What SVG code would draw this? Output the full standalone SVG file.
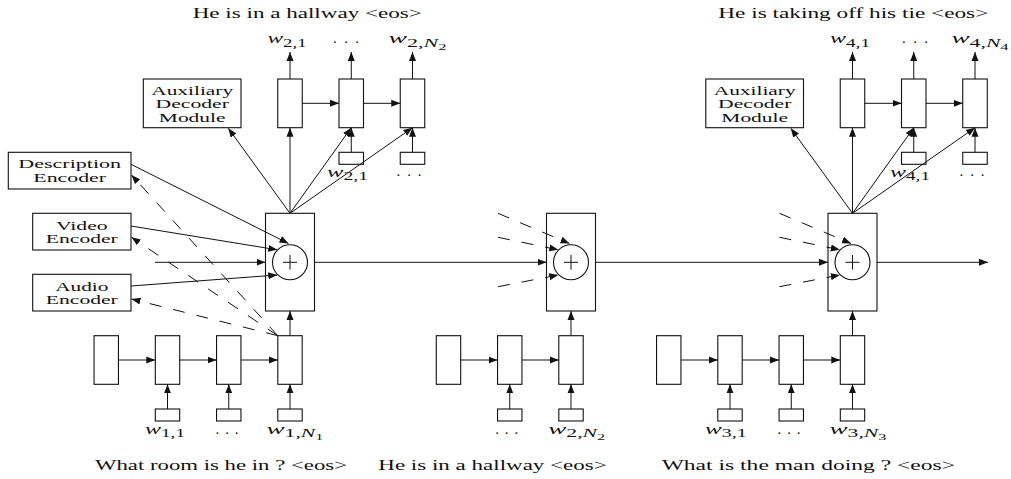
<svg xmlns="http://www.w3.org/2000/svg" width="1011" height="479" viewBox="0 0 1011 479">
<defs>
<style>
.b{fill:#fff;stroke:#111;stroke-width:1.1}
.l{fill:none;stroke:#111;stroke-width:1}
.d{fill:none;stroke:#111;stroke-width:1;stroke-dasharray:12 12}
.a{marker-end:url(#ah)}
text{font-family:"Liberation Serif","Times New Roman",serif;font-size:15px;fill:#111}
.t{text-anchor:middle}
.bx{font-size:13px}
.i{font-style:italic}
</style>
<marker id="ah" markerWidth="10" markerHeight="8" refX="9" refY="4" orient="auto" markerUnits="userSpaceOnUse">
<path d="M0,0.5 L9,4 L0,7.5 Z" fill="#111"/>
</marker>
</defs>
<rect width="1011" height="479" fill="#fff"/>

<!-- Encoders -->
<g id="desc-encoder">
<rect class="b" x="8.3" y="152.3" width="122.7" height="36.7"/>
<text class="t bx" x="69.7" y="168" textLength="102.7" lengthAdjust="spacingAndGlyphs">Description</text>
<text class="t bx" x="69.7" y="181.7" textLength="72.7" lengthAdjust="spacingAndGlyphs">Encoder</text>
</g>
<g id="video-encoder">
<rect class="b" x="32.7" y="213.3" width="98.3" height="36.7"/>
<text class="t bx" x="81.8" y="230.3" textLength="51.7" lengthAdjust="spacingAndGlyphs">Video</text>
<text class="t bx" x="81.8" y="243.3" textLength="72" lengthAdjust="spacingAndGlyphs">Encoder</text>
</g>
<g id="audio-encoder">
<rect class="b" x="32.7" y="274.3" width="98.3" height="36.7"/>
<text class="t bx" x="81.8" y="291.3" textLength="53.3" lengthAdjust="spacingAndGlyphs">Audio</text>
<text class="t bx" x="81.8" y="304.3" textLength="72" lengthAdjust="spacingAndGlyphs">Encoder</text>
</g>

<!-- Aux decoders -->
<g id="aux-decoder-1">
<rect class="b" x="143.3" y="79" width="97.7" height="48.7"/>
<text class="t bx" x="192.2" y="94.5" textLength="82" lengthAdjust="spacingAndGlyphs">Auxiliary</text>
<text class="t bx" x="192.2" y="108" textLength="73.3" lengthAdjust="spacingAndGlyphs">Decoder</text>
<text class="t bx" x="192.2" y="121.5" textLength="66.7" lengthAdjust="spacingAndGlyphs">Module</text>
</g>
<g id="aux-decoder-2">
<rect class="b" x="705.8" y="79" width="97.7" height="48.7"/>
<text class="t bx" x="754.7" y="94.5" textLength="82" lengthAdjust="spacingAndGlyphs">Auxiliary</text>
<text class="t bx" x="754.7" y="108" textLength="73.3" lengthAdjust="spacingAndGlyphs">Decoder</text>
<text class="t bx" x="754.7" y="121.5" textLength="66.7" lengthAdjust="spacingAndGlyphs">Module</text>
</g>

<!-- Main blocks -->
<g id="block-1">
<rect class="b" x="265.5" y="213.3" width="49" height="97.7"/>
<circle class="b" cx="290" cy="262.3" r="17.5"/>
<path class="l" d="M283,262.3 H297 M290,255 V269.6"/>
</g>
<g id="block-2">
<rect class="b" x="546.5" y="213.3" width="49" height="97.7"/>
<circle class="b" cx="571" cy="262.3" r="17.5"/>
<path class="l" d="M564,262.3 H578 M571,255 V269.6"/>
</g>
<g id="block-3">
<rect class="b" x="828" y="213.3" width="49" height="97.7"/>
<circle class="b" cx="852.5" cy="262.3" r="17.5"/>
<path class="l" d="M845.5,262.3 H859.5 M852.5,255 V269.6"/>
</g>

<!-- Decoder 1 -->
<g id="decoder-1">
<rect class="b" x="277.75" y="79" width="24.5" height="48.7"/>
<rect class="b" x="339" y="79" width="24.5" height="48.7"/>
<rect class="b" x="400.25" y="79" width="24.5" height="48.7"/>
<rect class="b" x="339" y="152.3" width="24.5" height="12"/>
<rect class="b" x="400.25" y="152.3" width="24.5" height="12"/>
</g>
<!-- Decoder 2 -->
<g id="decoder-2">
<rect class="b" x="840.25" y="79" width="24.5" height="48.7"/>
<rect class="b" x="901.5" y="79" width="24.5" height="48.7"/>
<rect class="b" x="962.75" y="79" width="24.5" height="48.7"/>
<rect class="b" x="901.5" y="152.3" width="24.5" height="12"/>
<rect class="b" x="962.75" y="152.3" width="24.5" height="12"/>
</g>

<!-- Chains -->
<g id="question-encoder-1">
<rect class="b" x="94.05" y="335.7" width="24.4" height="48.6"/>
<rect class="b" x="155.3" y="335.7" width="24.4" height="48.6"/>
<rect class="b" x="216.55" y="335.7" width="24.4" height="48.6"/>
<rect class="b" x="277.8" y="335.7" width="24.4" height="48.6"/>
<rect class="b" x="155.3" y="409" width="24.4" height="12"/>
<rect class="b" x="216.55" y="409" width="24.4" height="12"/>
<rect class="b" x="277.8" y="409" width="24.4" height="12"/>
</g>
<g id="answer-encoder-2">
<rect class="b" x="436.3" y="335.7" width="24.4" height="48.6"/>
<rect class="b" x="497.55" y="335.7" width="24.4" height="48.6"/>
<rect class="b" x="558.8" y="335.7" width="24.4" height="48.6"/>
<rect class="b" x="497.55" y="409" width="24.4" height="12"/>
<rect class="b" x="558.8" y="409" width="24.4" height="12"/>
</g>
<g id="question-encoder-3">
<rect class="b" x="656.55" y="335.7" width="24.4" height="48.6"/>
<rect class="b" x="717.8" y="335.7" width="24.4" height="48.6"/>
<rect class="b" x="779.05" y="335.7" width="24.4" height="48.6"/>
<rect class="b" x="840.3" y="335.7" width="24.4" height="48.6"/>
<rect class="b" x="717.8" y="409" width="24.4" height="12"/>
<rect class="b" x="779.05" y="409" width="24.4" height="12"/>
<rect class="b" x="840.3" y="409" width="24.4" height="12"/>
</g>

<!-- Connectors -->
<g id="connectors">
<line class="l a" x1="131" y1="164.3" x2="288.5" y2="243.5"/>
<line class="l a" x1="131" y1="226" x2="277.3" y2="249.8"/>
<line class="l a" x1="155" y1="262.3" x2="265.5" y2="262.3"/>
<line class="l a" x1="131" y1="286" x2="277.3" y2="275"/>
<line class="d a" x1="277.8" y1="335.7" x2="131.5" y2="175"/>
<line class="d a" x1="277.8" y1="335.7" x2="131.5" y2="237.3"/>
<line class="d a" x1="277.8" y1="335.7" x2="131.5" y2="299"/>
<line class="d a" x1="498" y1="213.3" x2="569.5" y2="243.5"/>
<line class="d a" x1="498" y1="237.3" x2="558.3" y2="249.8"/>
<line class="d a" x1="498" y1="286.7" x2="558.3" y2="275"/>
<line class="d a" x1="779.5" y1="213.3" x2="851" y2="243.5"/>
<line class="d a" x1="779.5" y1="237.3" x2="839.8" y2="249.8"/>
<line class="d a" x1="779.5" y1="286.7" x2="839.8" y2="275"/>
<line class="l a" x1="314.5" y1="262.3" x2="546.5" y2="262.3"/>
<line class="l a" x1="595.5" y1="262.3" x2="828" y2="262.3"/>
<line class="l a" x1="877" y1="262.3" x2="988" y2="262.3"/>
<line class="l a" x1="118.45" y1="360" x2="155.3" y2="360"/>
<line class="l a" x1="179.7" y1="360" x2="216.55" y2="360"/>
<line class="l a" x1="240.95" y1="360" x2="277.8" y2="360"/>
<line class="l a" x1="167.5" y1="409" x2="167.5" y2="384.3"/>
<line class="l a" x1="228.75" y1="409" x2="228.75" y2="384.3"/>
<line class="l a" x1="290" y1="409" x2="290" y2="384.3"/>
<line class="l a" x1="290" y1="335.7" x2="290" y2="311"/>
<line class="l a" x1="460.7" y1="360" x2="497.55" y2="360"/>
<line class="l a" x1="521.95" y1="360" x2="558.8" y2="360"/>
<line class="l a" x1="509.75" y1="409" x2="509.75" y2="384.3"/>
<line class="l a" x1="571" y1="409" x2="571" y2="384.3"/>
<line class="l a" x1="571" y1="335.7" x2="571" y2="311"/>
<line class="l a" x1="680.95" y1="360" x2="717.8" y2="360"/>
<line class="l a" x1="742.2" y1="360" x2="779.05" y2="360"/>
<line class="l a" x1="803.45" y1="360" x2="840.3" y2="360"/>
<line class="l a" x1="730" y1="409" x2="730" y2="384.3"/>
<line class="l a" x1="791.25" y1="409" x2="791.25" y2="384.3"/>
<line class="l a" x1="852.5" y1="409" x2="852.5" y2="384.3"/>
<line class="l a" x1="852.5" y1="335.7" x2="852.5" y2="311"/>
<line class="l a" x1="290" y1="213.3" x2="228.3" y2="128.3"/>
<line class="l a" x1="290" y1="213.3" x2="290" y2="127.7"/>
<line class="l a" x1="290" y1="213.3" x2="351.25" y2="127.7"/>
<line class="l a" x1="290" y1="213.3" x2="412.5" y2="127.7"/>
<line class="l a" x1="302.25" y1="103.3" x2="339" y2="103.3"/>
<line class="l a" x1="363.5" y1="103.3" x2="400.25" y2="103.3"/>
<line class="l a" x1="351.25" y1="152.3" x2="351.25" y2="127.7"/>
<line class="l a" x1="412.5" y1="152.3" x2="412.5" y2="127.7"/>
<line class="l a" x1="290" y1="79" x2="290" y2="52"/>
<line class="l a" x1="351.25" y1="79" x2="351.25" y2="52"/>
<line class="l a" x1="412.5" y1="79" x2="412.5" y2="52"/>
<line class="l a" x1="852.5" y1="213.3" x2="790.8" y2="128.3"/>
<line class="l a" x1="852.5" y1="213.3" x2="852.5" y2="127.7"/>
<line class="l a" x1="852.5" y1="213.3" x2="913.75" y2="127.7"/>
<line class="l a" x1="852.5" y1="213.3" x2="975" y2="127.7"/>
<line class="l a" x1="864.75" y1="103.3" x2="901.5" y2="103.3"/>
<line class="l a" x1="926" y1="103.3" x2="962.75" y2="103.3"/>
<line class="l a" x1="913.75" y1="152.3" x2="913.75" y2="127.7"/>
<line class="l a" x1="975" y1="152.3" x2="975" y2="127.7"/>
<line class="l a" x1="852.5" y1="79" x2="852.5" y2="52"/>
<line class="l a" x1="913.75" y1="79" x2="913.75" y2="52"/>
<line class="l a" x1="975" y1="79" x2="975" y2="52"/>
</g>

<!-- Labels -->
<g id="labels">
<text class="t" x="307.2" y="18.3" textLength="229" lengthAdjust="spacingAndGlyphs">He is in a hallway &lt;eos&gt;</text>
<text class="t" x="853.3" y="18.3" textLength="270" lengthAdjust="spacingAndGlyphs">He is taking off his tie &lt;eos&gt;</text>
<text class="t" x="221" y="469.5" textLength="252" lengthAdjust="spacingAndGlyphs">What room is he in ? &lt;eos&gt;</text>
<text class="t" x="492.5" y="469.5" textLength="228.4" lengthAdjust="spacingAndGlyphs">He is in a hallway &lt;eos&gt;</text>
<text class="t" x="808.3" y="469.5" textLength="293.3" lengthAdjust="spacingAndGlyphs">What is the man doing ? &lt;eos&gt;</text>

<text class="t" x="287" y="43.3" textLength="39" lengthAdjust="spacingAndGlyphs"><tspan class="i">w</tspan><tspan font-size="12" dy="3.5">2,1</tspan></text>
<text class="t" x="346" y="43" textLength="26" lengthAdjust="spacing">. . .</text>
<text class="t" x="417.5" y="43.3" textLength="58" lengthAdjust="spacingAndGlyphs"><tspan class="i">w</tspan><tspan font-size="12" dy="3.5">2,</tspan><tspan class="i" font-size="12">N</tspan><tspan font-size="9" dy="3">2</tspan></text>
<text class="t" x="347.5" y="176.7" textLength="41" lengthAdjust="spacingAndGlyphs"><tspan class="i">w</tspan><tspan font-size="12" dy="3.5">2,1</tspan></text>
<text class="t" x="409" y="176" textLength="25" lengthAdjust="spacing">. . .</text>

<text class="t" x="850" y="43.3" textLength="40" lengthAdjust="spacingAndGlyphs"><tspan class="i">w</tspan><tspan font-size="12" dy="3.5">4,1</tspan></text>
<text class="t" x="915" y="43" textLength="26" lengthAdjust="spacing">. . .</text>
<text class="t" x="980" y="43.3" textLength="57" lengthAdjust="spacingAndGlyphs"><tspan class="i">w</tspan><tspan font-size="12" dy="3.5">4,</tspan><tspan class="i" font-size="12">N</tspan><tspan font-size="9" dy="3">4</tspan></text>
<text class="t" x="910" y="176.7" textLength="40" lengthAdjust="spacingAndGlyphs"><tspan class="i">w</tspan><tspan font-size="12" dy="3.5">4,1</tspan></text>
<text class="t" x="972" y="176" textLength="25" lengthAdjust="spacing">. . .</text>

<text class="t" x="165" y="433.5" textLength="40" lengthAdjust="spacingAndGlyphs"><tspan class="i">w</tspan><tspan font-size="12" dy="3.5">1,1</tspan></text>
<text class="t" x="227" y="433.5" textLength="23" lengthAdjust="spacing">. . .</text>
<text class="t" x="295" y="433.5" textLength="57" lengthAdjust="spacingAndGlyphs"><tspan class="i">w</tspan><tspan font-size="12" dy="3.5">1,</tspan><tspan class="i" font-size="12">N</tspan><tspan font-size="9" dy="3">1</tspan></text>
<text class="t" x="506.7" y="433.5" textLength="23" lengthAdjust="spacing">. . .</text>
<text class="t" x="576.7" y="433.5" textLength="57" lengthAdjust="spacingAndGlyphs"><tspan class="i">w</tspan><tspan font-size="12" dy="3.5">2,</tspan><tspan class="i" font-size="12">N</tspan><tspan font-size="9" dy="3">2</tspan></text>
<text class="t" x="725.8" y="433.5" textLength="41.7" lengthAdjust="spacingAndGlyphs"><tspan class="i">w</tspan><tspan font-size="12" dy="3.5">3,1</tspan></text>
<text class="t" x="789" y="433.5" textLength="23" lengthAdjust="spacing">. . .</text>
<text class="t" x="858" y="433.5" textLength="57" lengthAdjust="spacingAndGlyphs"><tspan class="i">w</tspan><tspan font-size="12" dy="3.5">3,</tspan><tspan class="i" font-size="12">N</tspan><tspan font-size="9" dy="3">3</tspan></text>
</g>
</svg>
